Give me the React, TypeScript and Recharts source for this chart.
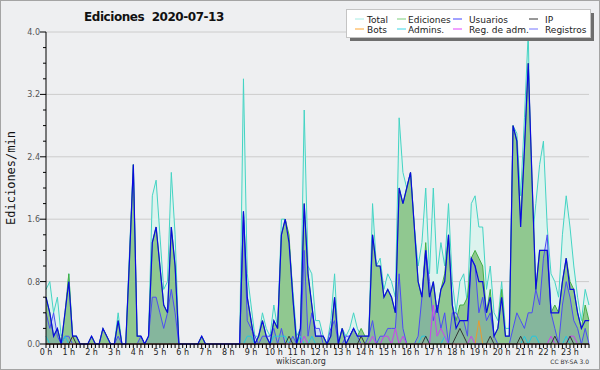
import React from 'react';
import { ComposedChart, Area, Line, XAxis, YAxis, CartesianGrid } from 'recharts';

// 10-minute slots over the day (144 slots), values in edits/min
const total = [
  0.7,0.8,0.4,0.6,0.1,0.2, 0.9,0.1,0.1,0,0,0,
  0.1,0,0,0.2,0.1,0, 0,0.4,0,0,1.2,2.3,
  0.1,0.1,0,0.1,1.9,2.1, 1.4,0.7,0.8,2.2,1.4,0,
  0,0,0,0,0,0.1, 0,0,0,0,0,0,
  0,0,0,0,3.4,0.9, 0.5,0.1,0.1,0.4,0.2,0.1,
  0.5,0.2,1.6,1.6,1.3,0.7, 0.1,0.2,3.0,1.0,0.9,0.3,
  0.3,0.1,0,0.3,0.9,0, 0.2,0.1,0.2,0.4,0.2,0.1,
  0.1,0.1,1.8,1.0,1.1,0.7, 0.9,0.8,0.6,2.9,2.2,2.0,
  2.2,1.5,1.0,1.3,2.0,0.9, 2.0,0.9,1.3,1.0,1.8,0.8,
  0.4,0.8,0.9,0.5,1.8,1.9, 1.5,1.5,0.7,1.0,0.4,0.3,
  0.8,0.2,0.2,2.8,2.7,1.9, 2.9,4.0,1.3,1.8,2.3,2.6,
  1.5,0.9,0.8,0.6,1.4,1.9, 1.5,1.0,0.6,0.3,0.7,0.5,
];

const ediciones = [
  0.6,0.4,0.1,0.2,0,0.4, 0.9,0.1,0.1,0,0,0,
  0.1,0,0,0.2,0.1,0, 0,0.3,0,0,1.1,2.3,
  0.1,0.1,0,0.1,1.3,1.5, 1.0,0.5,0.4,1.5,1.0,0,
  0,0,0,0,0,0.1, 0,0,0,0,0,0,
  0,0,0,0,1.7,0.6, 0.3,0,0.1,0.3,0.1,0,
  0.3,0.2,1.4,1.6,1.4,0.6, 0,0.2,1.8,0.9,0.5,0.1,
  0.1,0.1,0,0.1,0.6,0, 0.2,0,0.1,0.2,0.1,0.2,
  0.1,0.1,1.4,1.0,1.0,0.6, 0.7,0.6,0.4,2.0,1.8,2.0,
  2.2,1.5,0.8,0.6,1.3,0.6, 0.8,0.4,0.7,0.9,1.4,0.5,
  0.3,0.5,0.5,0.6,1.1,1.2, 1.1,1.0,0.4,0.7,0.1,0.2,
  0.7,0.1,0.1,2.8,2.6,1.6, 2.5,3.6,2.1,0.7,1.2,1.2,
  1.2,0.4,0.5,0.4,0.8,1.1, 0.8,0.7,0.4,0.2,0.5,0.3,
];

const usuarios = [
  0.6,0.4,0.1,0.2,0,0.4, 0.8,0.1,0.1,0,0,0,
  0.1,0,0,0.2,0.1,0, 0,0.3,0,0,1.1,2.3,
  0.1,0.1,0,0.1,1.3,1.5, 1.0,0.5,0.4,1.5,1.0,0,
  0,0,0,0,0,0.1, 0,0,0,0,0,0,
  0,0,0,0,1.7,0.6, 0.3,0,0.1,0.3,0.1,0,
  0.3,0.2,1.4,1.6,1.3,0.6, 0,0.2,1.8,0.9,0.5,0.1,
  0.1,0.1,0,0.1,0.6,0, 0.2,0,0.1,0.2,0.1,0.1,
  0.1,0.1,1.4,1.0,1.0,0.6, 0.7,0.6,0.4,2.0,1.8,2.0,
  2.2,1.5,0.8,0.6,1.2,0.6, 0.8,0.4,0.7,0.8,1.4,0.5,
  0.2,0.3,0.3,0.3,1.1,1.0, 0.8,0.8,0.4,0.6,0.1,0.2,
  0.6,0.1,0.1,2.8,2.6,1.5, 2.5,3.6,2.1,0.7,1.2,1.2,
  1.2,0.4,0.4,0.4,0.8,1.1, 0.7,0.7,0.4,0.2,0.3,0.3,
];

const ip = [
  0,0,0,0,0,0, 0,0.1,0,0,0,0,
  0,0,0,0,0,0, 0,0,0,0,0,0,
  0,0,0,0,0,0, 0,0,0,0,0,0,
  0,0,0,0,0,0, 0,0,0,0,0,0,
  0,0,0,0,0,0, 0,0,0,0,0,0,
  0,0,0,0,0.1,0, 0,0,0,0,0,0,
  0,0,0,0,0,0, 0,0,0,0,0,0.1,
  0,0,0,0,0,0, 0,0,0,0,0,0,
  0,0,0,0,0.1,0, 0,0,0,0,0,0,
  0.1,0.2,0.1,0,0,0, 0,0,0,0.1,0,0,
  0,0,0,0,0,0.1, 0,0,0,0,0,0,
  0,0,0.1,0,0,0, 0.1,0,0,0,0,0,
];

const bots = [
  0,0,0,0,0,0, 0,0,0,0,0,0,
  0,0,0,0,0,0, 0,0,0,0,0,0,
  0,0,0,0,0,0, 0,0,0,0,0,0,
  0,0,0,0,0,0, 0,0,0,0,0,0,
  0,0,0,0,0,0, 0,0,0,0,0,0,
  0,0,0,0,0,0, 0,0,0,0,0,0,
  0,0,0,0,0,0, 0,0,0,0,0,0,
  0,0,0,0,0,0, 0,0,0,0,0,0,
  0,0,0,0,0,0, 0,0,0,0,0,0,
  0,0,0,0,0,0, 0.3,0,0,0,0,0,
  0,0,0,0,0,0, 0,0,0,0,0,0,
  0,0,0,0,0,0, 0,0,0,0,0,0,
];

const admins = [
  0.1,0,0,0,0,0.1, 0,0,0,0,0,0,
  0,0,0,0,0,0, 0,0,0,0,0,0,
  0,0,0,0,0,0, 0,0,0,0,0,0,
  0,0,0,0,0,0, 0,0,0,0,0,0,
  0,0,0,0,0,0.1, 0.1,0,0,0,0,0,
  0.1,0.1,0.1,0.1,0,0, 0,0.1,0,0,0.1,0,
  0,0,0,0,0,0, 0,0,0,0,0,0,
  0,0,0,0,0,0, 0,0,0,0,0,0,
  0,0,0,0.1,0.1,0, 0,0,0,0.1,0,0,
  0,0,0,0,0,0, 0,0,0,0,0,0,
  0,0,0,0,0,0, 0.1,0,0.1,0.1,0,0,
  0,0,0,0,0,0.1, 0,0,0,0,0,0,
];

const regAdm = [
  0,0,0,0,0,0, 0,0,0,0,0,0,
  0,0,0,0,0,0, 0,0,0,0,0,0,
  0,0,0,0,0,0, 0,0,0,0,0,0,
  0,0,0,0,0,0, 0,0,0,0,0,0,
  0,0,0,0,0,0, 0,0,0,0,0,0,
  0,0,0,0,0,0, 0,0,0.1,0,0,0,
  0,0,0,0,0,0, 0,0,0,0,0,0,
  0,0,0.1,0,0,0.1, 0.1,0,0.2,0,0.1,0,
  0,0,0,0,0,0, 0.5,0.1,0.2,0.1,0,0,
  0,0,0,0,0.1,0, 0,0,0,0,0,0,
  0,0,0,0,0,0, 0,0,0,0,0,0,
  0,0.1,0,0,0,0, 0.1,0.1,0,0,0,0,
];

const registros = [
  0.4,0.2,0.4,0.1,0,0.1, 0.1,0,0,0,0,0,
  0,0,0,0,0,0, 0,0.1,0,0,0,0,
  0,0.1,0,0.1,0.6,0.6, 0.4,0.2,0.4,0.7,0.4,0,
  0,0,0,0,0,0, 0,0,0,0,0,0,
  0,0,0,0,1.7,0.3, 0.2,0.1,0,0.1,0.1,0.1,
  0.2,0,0.2,0,0,0.1, 0,0,1.2,0.1,0.4,0.2,
  0.2,0,0,0.2,0.3,0, 0,0.1,0.1,0.2,0.1,0,
  0,0.1,0.3,0,0.1,0.1, 0.2,0.2,0.2,0.9,0.2,0,
  0,0,0.1,0.6,1.2,0.8, 0.3,0.5,0.2,0.4,0,0.4,
  0.4,0.3,0.3,0.1,1.1,1.0, 0.4,0.6,0.3,0.4,0.1,0,
  0,0,0,0.2,0.4,0.3, 0.2,0.4,0.4,0.7,0.5,1.1,
  1.4,0.4,0.2,0,0.5,0.8, 0.6,0.3,0.2,0,0.2,0,
];

const hourLabels = [
  '0 h','1 h','2 h','3 h','4 h','5 h','6 h','7 h','8 h','9 h','10 h','11 h',
  '12 h','13 h','14 h','15 h','16 h','17 h','18 h','19 h','20 h','21 h','22 h','23 h',
];

const yTicks = [0,0.2,0.4,0.6,0.8,1.0,1.2,1.4,1.6,1.8,2.0,2.2,2.4,2.6,2.8,3.0,3.2,3.4,3.6,3.8,4.0];
const gridValues = [0.8,1.6,2.4,3.2,4.0];

const legendItems = [
  { name: 'Total', color: '#a6ece4' },
  { name: 'Ediciones', color: '#7ccf7c' },
  { name: 'Usuarios', color: '#4444ff' },
  { name: 'IP', color: '#333333' },
  { name: 'Bots', color: '#ffa632' },
  { name: 'Admins.', color: '#3cd6e6' },
  { name: 'Reg. de adm.', color: '#e044ff' },
  { name: 'Registros', color: '#7474ff' },
];

const data = total.map((t, i) => ({
  i,
  total: t,
  ediciones: ediciones[i],
  usuarios: usuarios[i],
  ip: ip[i],
  bots: bots[i],
  admins: admins[i],
  regAdm: regAdm[i],
  registros: registros[i],
}));

const xTicks = data.map((d) => d.i);

const FONT = 'DejaVu Sans, Verdana, sans-serif';

function XTick(props: any) {
  const { x, y, payload } = props;
  const v = payload.value as number;
  const isHour = v % 6 === 0;
  return (
    <g>
      <line x1={x} y1={y} x2={x} y2={y + 4} stroke="#000" strokeWidth={1} />
      {isHour && (
        <text x={x} y={y + 11} textAnchor="middle" fontSize={8} fill="#222" fontFamily={FONT}>
          {hourLabels[v / 6]}
        </text>
      )}
    </g>
  );
}

function YTick(props: any) {
  const { x, y, payload } = props;
  const v = payload.value as number;
  const major = Math.round(v * 10) % 8 === 0;
  return (
    <g>
      <line x1={x - (major ? 6 : 3)} y1={y} x2={x} y2={y} stroke="#000" strokeWidth={1} />
      {major && (
        <text x={x - 6} y={y + 3} textAnchor="end" fontSize={8} fill="#555" fontFamily={FONT}>
          {v.toFixed(1)}
        </text>
      )}
    </g>
  );
}

const legendCols = [355, 397, 453, 529];
const legendText = [367, 408, 469, 545];
const legendRows = [19, 29];

export default function App() {
  return (
    <div
      style={{
        position: 'absolute',
        left: 0,
        top: 0,
        width: 600,
        height: 370,
        background: '#eeeff1',
        overflow: 'hidden',
      }}
    >
      <ComposedChart width={600} height={370} data={data} margin={{ top: 32, right: 11, bottom: 0, left: 0 }}>
        <CartesianGrid horizontalValues={gridValues} vertical={false} stroke="#cccccc" />
        <XAxis
          type="number"
          dataKey="i"
          domain={[0, 143]}
          ticks={xTicks}
          interval={0}
          tick={(p: any) => <XTick {...p} />}
          tickLine={false}
          tickSize={0}
          tickMargin={0}
          height={26}
          axisLine={{ stroke: '#000' }}
        />
        <YAxis
          type="number"
          domain={[0, 4]}
          ticks={yTicks}
          interval={0}
          tick={(p: any) => <YTick {...p} />}
          tickLine={false}
          tickSize={0}
          tickMargin={0}
          width={46}
          axisLine={{ stroke: '#000' }}
        />
        <Area type="linear" dataKey="total" stroke="#44d4c4" strokeWidth={1} fill="#dcf3ee" fillOpacity={1} dot={false} activeDot={false} isAnimationActive={false} />
        <Area type="linear" dataKey="ediciones" stroke="#44b044" strokeWidth={1} fill="#90c890" fillOpacity={1} dot={false} activeDot={false} isAnimationActive={false} />
        <Area type="linear" dataKey="registros" stroke="#4c4cf4" strokeWidth={1} fill="#3c3cff" fillOpacity={0.12} dot={false} activeDot={false} isAnimationActive={false} />
        <Line type="linear" dataKey="admins" stroke="#22c8e0" strokeWidth={1} dot={false} activeDot={false} isAnimationActive={false} />
        <Line type="linear" dataKey="regAdm" stroke="#cc40f0" strokeWidth={1} dot={false} activeDot={false} isAnimationActive={false} />
        <Line type="linear" dataKey="bots" stroke="#e89a30" strokeWidth={1} dot={false} activeDot={false} isAnimationActive={false} />
        <Line type="linear" dataKey="ip" stroke="#333333" strokeWidth={1} dot={false} activeDot={false} isAnimationActive={false} />
        <Line type="linear" dataKey="usuarios" stroke="#0a0ae0" strokeWidth={1.2} dot={false} activeDot={false} isAnimationActive={false} />
      </ComposedChart>
      <svg
        width={600}
        height={370}
        style={{ position: 'absolute', left: 0, top: 0, pointerEvents: 'none' }}
      >
        <rect x={0.5} y={0.5} width={599} height={369} fill="none" stroke="#a4a4a4" />
        <text
          x={154}
          y={21}
          textAnchor="middle"
          fontSize={12}
          fontWeight="bold"
          fill="#111"
          fontFamily={FONT}
          letterSpacing={-0.45}
          xmlSpace="preserve"
          style={{ whiteSpace: 'pre' }}
        >
          {'Ediciones  2020-07-13'}
        </text>
        <text
          x={15}
          y={178}
          textAnchor="middle"
          fontSize={12}
          fill="#111"
          fontFamily="DejaVu Sans Mono, monospace"
          transform="rotate(-90 15 178)"
        >
          Ediciones/min
        </text>
        <text x={301} y={364} textAnchor="middle" fontSize={8} fill="#333" fontFamily={FONT}>
          wikiscan.org
        </text>
        <text x={589} y={364} textAnchor="end" fontSize={6} fill="#333" fontFamily={FONT}>
          CC BY-SA 3.0
        </text>
        <rect x={350} y={13} width={244} height={28} fill="#6e6e6e" />
        <rect x={346.5} y={9.5} width={244} height={28} fill="#ffffff" stroke="#c4c4c4" />
        {legendItems.map((it, k) => {
          const col = k % 4;
          const row = Math.floor(k / 4);
          const ly = legendRows[row];
          return (
            <g key={it.name}>
              <line x1={legendCols[col]} y1={ly} x2={legendCols[col] + 9} y2={ly} stroke={it.color} strokeWidth={1} />
              <text x={legendText[col]} y={ly + 3.5} fontSize={9} fill="#222" fontFamily={FONT}>
                {it.name}
              </text>
            </g>
          );
        })}
      </svg>
    </div>
  );
}
